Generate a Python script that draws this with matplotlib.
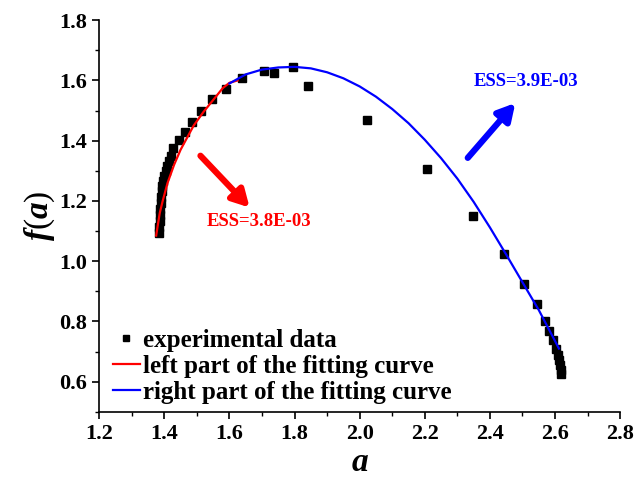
import matplotlib
matplotlib.use('Agg')
import matplotlib.pyplot as plt
from matplotlib.ticker import MultipleLocator

plt.rcParams['font.family'] = ['Liberation Serif', 'DejaVu Serif']
plt.rcParams['font.weight'] = 'bold'
plt.rcParams['mathtext.fontset'] = 'custom'
plt.rcParams['mathtext.it'] = 'Liberation Serif:italic:bold'
plt.rcParams['mathtext.rm'] = 'Liberation Serif:bold'
plt.rcParams['mathtext.bf'] = 'Liberation Serif:bold'

exp_a = [1.385, 1.385, 1.388, 1.388, 1.388, 1.391, 1.391, 1.394, 1.394, 1.397,
         1.400, 1.406, 1.409, 1.415, 1.422, 1.428, 1.446, 1.465, 1.486, 1.514,
         1.545, 1.588, 1.640, 1.705, 1.738, 1.794, 1.840, 2.022, 2.206, 2.348,
         2.443, 2.505, 2.545, 2.569, 2.582, 2.594, 2.603, 2.609, 2.612, 2.615,
         2.618, 2.618]
exp_f = [1.093, 1.113, 1.133, 1.153, 1.173, 1.193, 1.213, 1.233, 1.250, 1.267,
         1.283, 1.300, 1.317, 1.333, 1.350, 1.377, 1.403, 1.430, 1.463, 1.500,
         1.537, 1.573, 1.607, 1.630, 1.623, 1.643, 1.583, 1.470, 1.307, 1.150,
         1.023, 0.923, 0.857, 0.803, 0.767, 0.740, 0.710, 0.690, 0.673, 0.657,
         0.640, 0.627]

# left part of fitting curve
left_a = [1.375, 1.380, 1.386, 1.395, 1.410, 1.430, 1.450, 1.470, 1.490, 1.520,
          1.550, 1.580, 1.600, 1.625]
left_f = [1.085, 1.120, 1.160, 1.200, 1.260, 1.320, 1.370, 1.410, 1.450, 1.495,
          1.535, 1.575, 1.592, 1.600]

# right part of fitting curve
right_a = [1.600, 1.650, 1.700, 1.750, 1.800, 1.850, 1.900, 1.950, 2.000, 2.050,
           2.100, 2.150, 2.200, 2.250, 2.300, 2.350, 2.400, 2.450, 2.500, 2.550,
           2.600, 2.612]
right_f = [1.590, 1.620, 1.636, 1.643, 1.645, 1.640, 1.627, 1.607, 1.580, 1.546,
           1.505, 1.458, 1.403, 1.342, 1.274, 1.197, 1.112, 1.022, 0.930, 0.838,
           0.735, 0.710]

fig = plt.figure(figsize=(6.4, 4.8), dpi=100)
ax = fig.add_axes([0.155, 0.142, 0.814, 0.816])

ax.plot(exp_a, exp_f, 's', color='black', ms=5.8, label='experimental data', zorder=3)
ax.plot(left_a, left_f, '-', color='red', lw=1.6, label='left part of the fitting curve', zorder=4)
ax.plot(right_a, right_f, '-', color='blue', lw=1.6, label='right part of the fitting curve', zorder=4)

# arrows with ESS annotations
ax.annotate('', xy=(1.662, 1.178), xytext=(1.511, 1.35),
            arrowprops=dict(arrowstyle='-|>,head_length=1.0,head_width=0.55', color='red',
                            lw=4.5, shrinkA=0, shrinkB=0))
ax.text(1.692, 1.133, 'ESS=3.8E-03', color='red', fontsize=13.5, fontweight='bold',
        ha='center', va='center')
ax.annotate('', xy=(2.478, 1.525), xytext=(2.332, 1.343),
            arrowprops=dict(arrowstyle='-|>,head_length=1.0,head_width=0.55', color='blue',
                            lw=4.5, shrinkA=0, shrinkB=0))
ax.text(2.511, 1.597, 'ESS=3.9E-03', color='blue', fontsize=13.5, fontweight='bold',
        ha='center', va='center')

ax.set_xlim(1.2, 2.8)
ax.set_ylim(0.5, 1.8)
ax.xaxis.set_minor_locator(MultipleLocator(0.1))
ax.yaxis.set_minor_locator(MultipleLocator(0.1))
ax.set_xticks([1.2, 1.4, 1.6, 1.8, 2.0, 2.2, 2.4, 2.6, 2.8])
ax.set_xticklabels(['1.2', '1.4', '1.6', '1.8', '2.0', '2.2', '2.4', '2.6', '2.8'])
ax.set_yticks([0.6, 0.8, 1.0, 1.2, 1.4, 1.6, 1.8])
ax.set_yticklabels(['0.6', '0.8', '1.0', '1.2', '1.4', '1.6', '1.8'])
ax.tick_params(which='major', direction='out', length=5, width=1.2, labelsize=16)
ax.tick_params(which='minor', direction='out', length=3, width=1.0)
for lab in ax.get_xticklabels() + ax.get_yticklabels():
    lab.set_fontweight('bold')

ax.spines['top'].set_visible(False)
ax.spines['right'].set_visible(False)
ax.spines['left'].set_linewidth(1.2)
ax.spines['bottom'].set_linewidth(1.2)

ax.set_xlabel('$a$', fontsize=24, labelpad=3)
ax.set_ylabel('$f$($a$)', fontsize=24, labelpad=2)

ax.legend(loc='lower left', bbox_to_anchor=(0.027, 0.02), frameon=False,
          handlelength=1.05, handletextpad=0.15, labelspacing=0.12, borderaxespad=0,
          borderpad=0, markerscale=0.75, prop={'weight': 'bold', 'size': 18})

fig.savefig('out.png', dpi=100)
